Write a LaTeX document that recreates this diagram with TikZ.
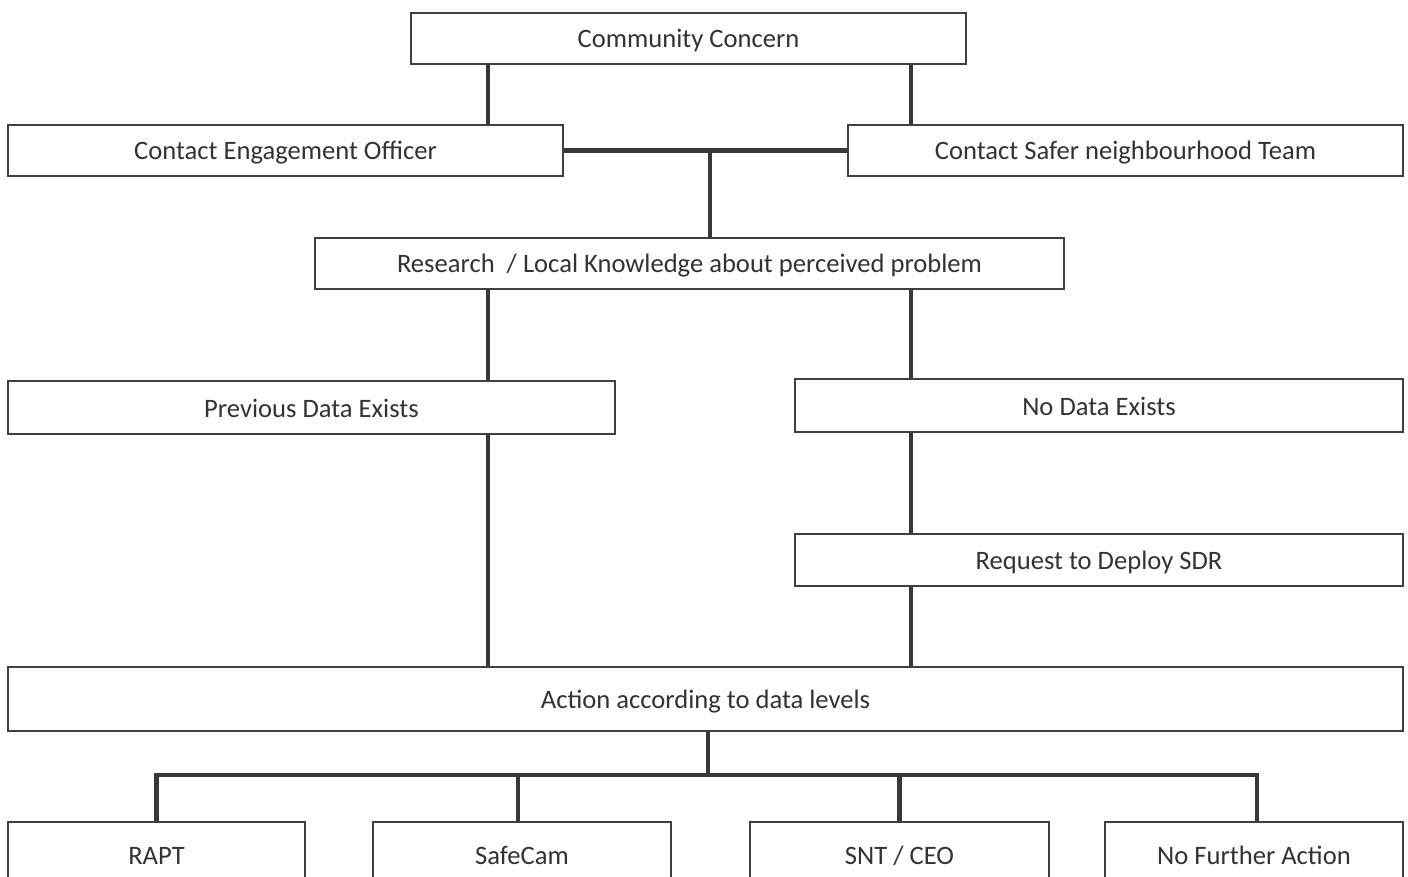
\documentclass[tikz,border=0pt]{standalone}
\usepackage{fontspec}
\setmainfont{Carlito}
\usepackage{tikz}
\usetikzlibrary{positioning}
\definecolor{boxgray}{HTML}{404040}
\definecolor{linegray}{HTML}{383838}
\definecolor{textgray}{HTML}{333333}
\tikzset{
  box/.style={draw=boxgray, line width=1pt, fill=white, inner sep=0pt, text=textgray,
    text height=12.5pt, text depth=3pt, font=\fontsize{13.3}{16}\selectfont},
  link/.style={draw=linegray, line width=2.3pt},
}
\begin{document}
\begin{tikzpicture}[x=0.5pt,y=-0.5pt]
  \useasboundingbox (0,0) rectangle (1408,877);
  \clip (0,0) rectangle (1408,877);
  % top of the chart
  \node[box, minimum width=277.5pt, minimum height=25.5pt] (cc) at (688.5,38.5) {Community Concern};
  \node[box, minimum width=277.5pt, minimum height=25.5pt] (ceo) at (285.5,150.5) {Contact Engagement Officer};
  \node[box, minimum width=277.5pt, minimum height=25.5pt] (snt) at (1125.5,150.5) {Contact Safer neighbourhood Team};
  \node[box, minimum width=374.5pt, minimum height=25.5pt] (research) at (689.5,263.5) {Research \ / Local Knowledge about perceived problem};
  % data branches
  \node[box, minimum width=303.5pt, minimum height=26.5pt] (prev) at (311.5,407.5) {Previous Data Exists};
  \node[box, minimum width=304pt, minimum height=26.5pt] (nodata) at (1099,405.5) {No Data Exists};
  \node[box, minimum width=304pt, minimum height=26pt] (sdr) at (1099,560) {Request to Deploy SDR};
  \node[box, minimum width=697.5pt, minimum height=32pt] (action) at (705.5,699) {Action according to data levels};
  % outcomes
  \node[box, minimum width=148.5pt, minimum height=33pt] (rapt) at (156.5,855) {RAPT};
  \node[box, minimum width=149pt, minimum height=33pt] (safecam) at (522,855) {SafeCam};
  \node[box, minimum width=149.5pt, minimum height=33pt] (sntceo) at (899.5,855) {SNT / CEO};
  \node[box, minimum width=149pt, minimum height=33pt] (nfa) at (1254,855) {No Further Action};

  \coordinate (xl) at (488,0);
  \coordinate (xr) at (911,0);
  \coordinate (xm) at (710,151);
  \coordinate (xa) at (708,775);
  \coordinate (xs) at (518,0);
  \coordinate (xn) at (1257,0);
  \draw[link] (cc.south -| xl) -- (ceo.north -| xl);
  \draw[link] (cc.south -| xr) -- (snt.north -| xr);
  \draw[link] (ceo.east) -- (snt.west);
  \draw[link] (xm) -- (research.north -| xm);
  \draw[link] (research.south -| xl) -- (prev.north -| xl);
  \draw[link] (research.south -| xr) -- (nodata.north -| xr);
  \draw[link] (prev.south -| xl) -- (action.north -| xl);
  \draw[link] (nodata.south -| xr) -- (sdr.north -| xr);
  \draw[link] (sdr.south -| xr) -- (action.north -| xr);
  \draw[link] (action.south -| xa) -- (xa);
  \draw[link] (rapt.north) -- (rapt.north |- xa) -- (xn |- xa) -- (nfa.north -| xn);
  \draw[link] (safecam.north -| xs) -- (xs |- xa);
  \draw[link] (sntceo.north) -- (sntceo.north |- xa);
\end{tikzpicture}
\end{document}
